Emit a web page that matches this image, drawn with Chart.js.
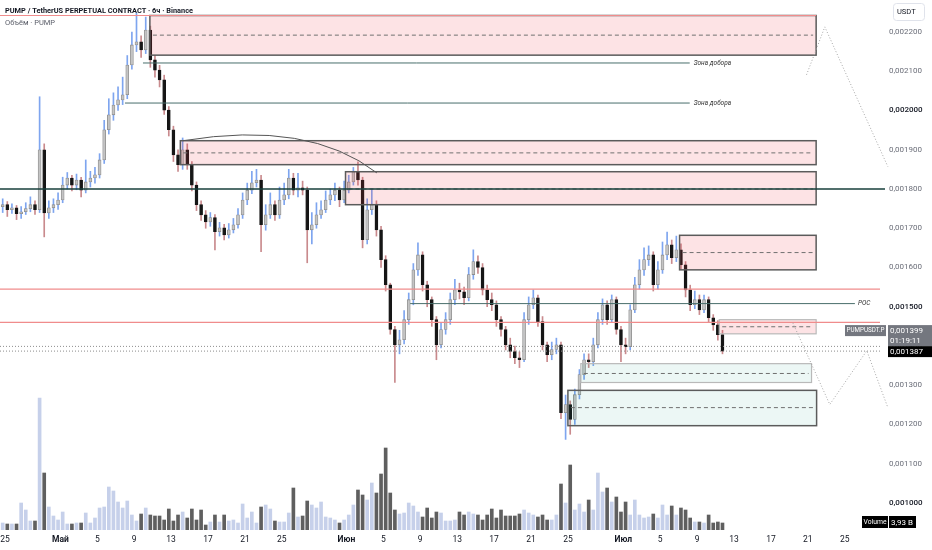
<!DOCTYPE html>
<html>
<head>
<meta charset="utf-8">
<script src="https://cdn.jsdelivr.net/npm/chart.js@4.4.1/dist/chart.umd.min.js"></script>
<style>
  html, body { margin: 0; padding: 0; background: #fff; }
  #wrap { width: 932px; height: 550px; }
</style>
</head>
<body>
<div id="wrap"><canvas id="pumpChart" width="932" height="550"></canvas></div>
<script>
// PUMP/USDT perpetual, 12h candles. x = days after 25 Apr, prices in 1e-6 USDT
const candleStartDay = -0.25;   // centre of first candle (24 Apr, 12:00-24:00)
const candleStepDays = 0.5;
const firstOpen = 1755;

const closes = [
  1760,1747,1752,1737,1742,1750,1760,1747,1900,1739,
  1752,1760,1772,1810,1828,1810,1823,1797,1818,1828,
  1836,1874,1951,1989,2014,2027,2040,2116,2167,2175,
  2154,2205,2129,2103,2078,2001,1951,1887,1862,1900,
  1862,1810,1760,1734,1716,1727,1691,1701,1683,1696,
  1709,1734,1772,1797,1816,1823,1709,1734,1760,1734,
  1772,1785,1828,1797,1803,1797,1696,1709,1734,1747,
  1772,1785,1797,1772,1797,1818,1844,1823,1671,1747,
  1760,1696,1620,1556,1442,1403,1416,1467,1518,1594,
  1632,1556,1518,1467,1403,1442,1467,1518,1543,1538,
  1523,1582,1615,1600,1543,1518,1505,1467,1442,1403,
  1386,1370,1365,1467,1505,1523,1462,1403,1378,1391,
  1403,1230,1251,1213,1276,1327,1365,1360,1403,1467,
  1505,1467,1518,1442,1403,1398,1492,1556,1594,1620,
  1632,1556,1594,1632,1658,1625,1645,1607,1543,1505,
  1518,1492,1518,1472,1454,1429,1387
];
const highs = [
  1775,1768,1762,1758,1755,1765,1780,1770,2035,1915,
  1770,1775,1790,1830,1842,1835,1838,1830,1874,1845,
  1855,1890,1975,2030,2045,2060,2085,2140,2200,2248,
  2190,2238,2215,2140,2115,2090,2010,1960,1900,1930,
  1915,1870,1818,1770,1745,1740,1735,1715,1710,1712,
  1725,1750,1790,1815,1845,1850,1835,1760,1790,1770,
  1805,1815,1850,1840,1840,1820,1805,1740,1765,1770,
  1795,1800,1815,1805,1820,1835,1855,1869,1830,1775,
  1800,1770,1705,1630,1560,1450,1440,1490,1535,1610,
  1663,1640,1565,1525,1475,1460,1485,1535,1570,1560,
  1550,1600,1645,1630,1610,1555,1535,1515,1475,1450,
  1420,1400,1385,1485,1525,1543,1530,1475,1410,1410,
  1420,1410,1275,1260,1290,1340,1380,1380,1420,1485,
  1520,1515,1530,1525,1450,1420,1505,1575,1620,1650,
  1655,1640,1615,1665,1690,1670,1680,1660,1615,1555,
  1540,1530,1530,1525,1480,1465,1440
];
const lows = [
  1740,1730,1738,1722,1725,1735,1742,1735,1740,1678,
  1725,1740,1748,1765,1800,1795,1798,1780,1790,1805,
  1815,1828,1865,1940,1975,2000,2015,2030,2105,2150,
  2135,2145,2110,2085,2060,1990,1935,1870,1845,1850,
  1850,1795,1745,1720,1700,1705,1645,1680,1670,1675,
  1688,1700,1725,1760,1788,1805,1640,1695,1725,1720,
  1725,1760,1775,1785,1780,1785,1612,1660,1700,1725,
  1740,1760,1770,1755,1765,1790,1810,1810,1650,1660,
  1735,1680,1600,1540,1430,1307,1380,1405,1455,1505,
  1580,1540,1500,1450,1365,1395,1430,1455,1505,1520,
  1505,1515,1570,1585,1530,1500,1490,1450,1425,1390,
  1370,1355,1345,1360,1455,1495,1450,1390,1360,1365,
  1380,1215,1162,1175,1200,1265,1315,1345,1350,1395,
  1455,1455,1460,1430,1360,1380,1390,1485,1545,1580,
  1605,1540,1545,1585,1620,1610,1615,1595,1525,1490,
  1495,1480,1485,1460,1440,1415,1380
];
// volume, relative units
const volumes = [
  7,6,6,6,27,20,9,9,132,57,
  23,14,10,18,6,6,7,7,17,7,
  12,22,23,43,39,28,22,29,15,9,
  16,22,15,14,14,10,21,9,15,18,
  12,21,10,20,5,8,15,8,15,9,
  10,7,26,12,18,7,23,25,21,9,
  8,8,17,42,13,14,29,25,22,28,
  13,12,10,7,10,15,25,40,35,30,
  47,37,56,82,37,20,16,17,27,24,
  18,13,22,12,18,17,9,9,10,18,
  15,18,16,15,10,15,21,12,20,14,
  14,14,16,20,17,15,13,15,10,10,
  15,46,27,65,20,26,18,30,20,57,
  38,42,28,33,18,28,15,30,15,12,
  13,16,12,25,15,24,15,22,20,12,
  8,8,7,15,7,8,7
];

const tickDays   = [0, 6, 10, 14, 18, 22, 26, 30, 37, 41, 45, 49, 53, 57, 61, 67, 71, 75, 79, 83, 87, 91];
const tickLabels = ['25','Май','5','9','13','17','21','25','Июн','5','9','13','17','21','25','Июл','5','9','13','17','21','25'];
const monthLabels = ['Май', 'Июн', 'Июл'];
const priceTicks = [1000,1100,1200,1300,1400,1500,1600,1700,1800,1900,2000,2100,2200];
const strongTicks = [1000, 1500, 2000];

// drawings: [fromDay, toDay, top, bottom, middle, weakBorder]
const supplyZones = [
  [15.7, 87.9, 2242, 2141, 2192, false],
  [19.0, 87.9, 1923, 1862, 1892, false],
  [36.9, 87.9, 1844, 1760, 1800, false],
  [73.1, 87.9, 1682, 1594, 1638, false],
  [77.4, 87.9, 1467, 1431, 1449, true]
];
const demandZones = [
  [62.4, 87.4, 1355, 1307, 1330, true],
  [61.0, 87.95, 1287, 1197, 1243, false]
];
const redLevels = [[-1, 87.9, 2242], [-1, 96, 1545], [-1, 96, 1460]];
const keyLevel = 1800;
const addLevels = [[14.95, 74.2, 2121], [13.0, 74.2, 2019]];   // "Зона добора"
const pocLevel = [43.9, 92.1, 1508];
const lastPrice = 1387;
const markPrice = 1399;
const arcPoints = [[19.3, 1923], [32.9, 1976], [40.3, 1841]];   // start, control, end
const pathTop = [[86.86, 2091], [88.84, 2213], [95.67, 1857]];
const pathBottom = [[85.37, 1459], [89.38, 1251], [93.39, 1388], [95.67, 1243]];

const FONT = 'Roboto, "DejaVu Sans", sans-serif';
const dayOf = i => candleStartDay + i * candleStepDays;
const opens = closes.map((c, i) => (i === 0 ? firstOpen : closes[i - 1]));
const isUp = i => closes[i] >= opens[i];
const fmt = v => (v / 1e6).toFixed(6).replace('.', ',');
const isStrong = ctx => !!(ctx && ctx.tick && strongTicks.includes(ctx.tick.value));

const overlay = {
  id: 'overlay',
  afterDatasetsDraw(chart) {
    const { ctx, chartArea: a } = chart;
    const xs = chart.scales.x, ys = chart.scales.y;
    const X = d => xs.getPixelForValue(d);
    const Y = p => ys.getPixelForValue(p);
    const seg = (x1, y1, x2, y2) => { ctx.beginPath(); ctx.moveTo(x1, y1); ctx.lineTo(x2, y2); ctx.stroke(); };
    const poly = pts => { ctx.beginPath(); pts.forEach(([d, p], k) => k ? ctx.lineTo(X(d), Y(p)) : ctx.moveTo(X(d), Y(p))); ctx.stroke(); };
    ctx.save();

    const zone = (z, fill) => {
      const [from, to, top, bottom, mid, weak] = z;
      const x1 = X(from), x2 = X(to), y1 = Y(top), y2 = Y(bottom);
      ctx.fillStyle = fill;
      ctx.fillRect(x1, y1, x2 - x1, y2 - y1);
      ctx.setLineDash([]);
      ctx.strokeStyle = weak ? '#b9b9b9' : '#5b5b5b';
      ctx.lineWidth = weak ? 1.2 : 1.5;
      ctx.strokeRect(x1, y1, x2 - x1, y2 - y1);
      ctx.strokeStyle = '#707070';
      ctx.lineWidth = 1;
      ctx.setLineDash([4, 3]);
      seg(x1 + 3, Y(mid), x2 - 3, Y(mid));
      ctx.setLineDash([]);
    };
    supplyZones.forEach(z => zone(z, 'rgba(242, 54, 69, 0.14)'));
    demandZones.forEach(z => zone(z, 'rgba(8, 153, 129, 0.08)'));

    // horizontal levels
    ctx.strokeStyle = '#f08c8c'; ctx.lineWidth = 1.2;
    redLevels.forEach(([f, t, p]) => seg(Math.max(X(f), a.left), Y(p), Math.min(X(t), a.right), Y(p)));
    ctx.strokeStyle = '#173f3b'; ctx.lineWidth = 1.5;
    seg(a.left, Y(keyLevel), a.right + 5, Y(keyLevel));
    ctx.strokeStyle = '#486e6b'; ctx.lineWidth = 1;
    addLevels.forEach(([f, t, p]) => seg(X(f), Y(p), X(t), Y(p)));
    seg(X(pocLevel[0]), Y(pocLevel[2]), X(pocLevel[1]), Y(pocLevel[2]));

    ctx.font = 'italic 6.5px ' + FONT;
    ctx.fillStyle = '#333';
    ctx.textBaseline = 'middle';
    ctx.textAlign = 'left';
    addLevels.forEach(([f, t, p]) => ctx.fillText('Зона добора', X(t) + 4, Y(p)));
    ctx.fillText('POC', X(pocLevel[1]) + 3, Y(pocLevel[2]));

    // last price / mark price dotted lines
    ctx.strokeStyle = '#8c8c8c'; ctx.lineWidth = 1; ctx.setLineDash([1, 2]);
    seg(a.left, Y(markPrice), a.right, Y(markPrice));
    seg(a.left, Y(lastPrice), a.right, Y(lastPrice));

    // projection paths
    ctx.strokeStyle = '#a6a6a6';
    poly(pathTop);
    poly(pathBottom);
    ctx.setLineDash([]);

    // arc over the range
    const [s, c, e] = arcPoints.map(([d, p]) => [X(d), Y(p)]);
    ctx.strokeStyle = '#555'; ctx.lineWidth = 1;
    ctx.beginPath(); ctx.moveTo(s[0], s[1]); ctx.quadraticCurveTo(c[0], c[1], e[0], e[1]); ctx.stroke();
    ctx.restore();
  },
  afterDraw(chart) {
    const { ctx, chartArea: a } = chart;
    const ys = chart.scales.y;
    ctx.save();
    ctx.textBaseline = 'middle';
    // title
    ctx.textAlign = 'left';
    ctx.fillStyle = '#131722';
    ctx.font = 'bold 8px ' + FONT;
    ctx.fillText('PUMP / TetherUS PERPETUAL CONTRACT · 6ч · Binance', 5, 11, 188);
    ctx.fillStyle = '#5d606b';
    ctx.font = '8px ' + FONT;
    ctx.fillText('Объём · PUMP', 5, 23, 50);

    // currency box
    ctx.strokeStyle = '#e0e3eb'; ctx.lineWidth = 1;
    ctx.fillStyle = '#fff';
    ctx.beginPath(); ctx.roundRect(893.5, 3.5, 31, 17, 3); ctx.fill(); ctx.stroke();
    ctx.fillStyle = '#131722'; ctx.font = '7.5px ' + FONT;
    ctx.fillText('USDT', 897, 12);

    // price labels on the axis
    const yl = ys.getPixelForValue(lastPrice);
    const ax = a.right + 9;
    ctx.fillStyle = '#000';
    ctx.fillRect(a.right + 8, yl - 5, 44, 11);
    ctx.fillStyle = '#fff'; ctx.font = '8px ' + FONT;
    ctx.fillText(fmt(lastPrice), ax + 1, yl + 0.5);
    ctx.fillStyle = '#74777f';
    ctx.fillRect(a.right + 8, yl - 26, 44, 21);
    ctx.fillRect(845, yl - 26, 41, 11);
    ctx.fillStyle = '#fff';
    ctx.fillText(fmt(markPrice), ax + 1, yl - 20.5);
    ctx.fillText('01:19:11', ax + 1, yl - 10);
    ctx.font = '7.5px ' + FONT;
    ctx.fillText('PUMPUSDT.P', 846.5, yl - 20.5, 38);

    // volume label
    ctx.fillStyle = '#000';
    ctx.fillRect(862, 516, 26, 12);
    ctx.fillRect(889, 516, 27, 12);
    ctx.fillStyle = '#fff';
    ctx.font = '7.5px ' + FONT;
    ctx.fillText('Volume', 863.5, 522.5, 23);
    ctx.font = '8px ' + FONT;
    ctx.fillText('3,93 B', 891, 522.5);
    ctx.restore();
  }
};

const volumeData = volumes.map((v, i) => ({ x: dayOf(i), y: v }));
const wickData = highs.map((h, i) => ({ x: dayOf(i), y: [lows[i], h] }));
const bodyData = closes.map((c, i) => ({ x: dayOf(i), y: [opens[i], c] }));

new Chart(document.getElementById('pumpChart').getContext('2d'), {
  type: 'bar',
  data: {
    datasets: [
      {
        label: 'Volume',
        data: volumeData,
        yAxisID: 'yv',
        backgroundColor: volumes.map((v, i) => (isUp(i) ? '#c6d0ea' : '#5f5f5f')),
        barThickness: 3,
        grouped: false,
        order: 5
      },
      {
        label: 'wick',
        data: wickData,
        yAxisID: 'y',
        backgroundColor: highs.map((h, i) => (isUp(i) ? '#7ea5ef' : '#c98a8d')),
        barThickness: 1,
        grouped: false,
        order: 3
      },
      {
        label: 'PUMP',
        data: bodyData,
        yAxisID: 'y',
        backgroundColor: closes.map((c, i) => (isUp(i) ? '#c4c4c4' : '#161616')),
        borderColor: closes.map((c, i) => (isUp(i) ? '#8e8e8e' : '#161616')),
        borderWidth: 0.8,
        borderSkipped: false,
        minBarLength: 1,
        barThickness: 3,
        grouped: false,
        order: 1
      }
    ]
  },
  options: {
    responsive: false,
    animation: false,
    layout: { padding: 0 },
    plugins: { legend: { display: false }, tooltip: { enabled: false } },
    scales: {
      x: {
        type: 'linear',
        offset: false,
        min: -0.542,
        max: 94.82,
        grid: { display: false, drawTicks: false },
        border: { display: false },
        afterBuildTicks: scale => { scale.ticks = tickDays.map(v => ({ value: v })); },
        afterFit: scale => { scale.height = 20; scale.paddingLeft = 0; scale.paddingRight = 0; },
        ticks: {
          autoSkip: false,
          maxRotation: 0,
          padding: 5,
          color: '#131722',
          font: ctx => ({ family: FONT, size: 8.5, weight: ctx && monthLabels.includes(tickLabels[ctx.index]) ? 'bold' : 'normal' }),
          callback: (v, idx) => tickLabels[idx]
        }
      },
      y: {
        type: 'linear',
        position: 'right',
        min: 931.2,
        max: 2281.5,
        grid: { display: false, drawTicks: false },
        border: { display: false },
        afterBuildTicks: scale => { scale.ticks = priceTicks.map(v => ({ value: v })); },
        afterFit: scale => { scale.width = 52; scale.paddingTop = 0; scale.paddingBottom = 0; },
        ticks: {
          padding: 9,
          color: ctx => (isStrong(ctx) ? '#131722' : '#6a6d78'),
          font: ctx => ({ family: FONT, size: 8, weight: isStrong(ctx) ? '500' : 'normal' }),
          callback: v => fmt(v)
        }
      },
      yv: {
        type: 'linear',
        position: 'left',
        display: false,
        min: 0,
        max: 530
      }
    }
  },
  plugins: [overlay]
});
</script>
</body>
</html>
